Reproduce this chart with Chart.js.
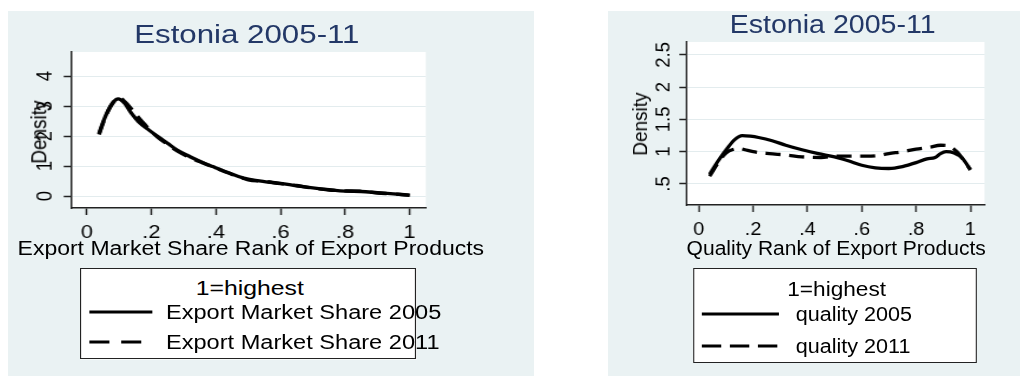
<!DOCTYPE html>
<html>
<head>
<meta charset="utf-8">
<title>Estonia 2005-11</title>
<script src="https://cdn.jsdelivr.net/npm/chart.js@4.4.0/dist/chart.umd.min.js"></script>
<style>
  html, body { margin: 0; padding: 0; background: #fff; }
  body { width: 1020px; height: 376px; position: relative; overflow: hidden; font-family: "Liberation Sans", Arial, sans-serif; }
  .panel { position: absolute; top: 11px; height: 365px; background: #eaf2f3; transform-origin: 0 0; }
  .panel canvas { position: absolute; left: 0; top: 0; }
  .t { position: absolute; white-space: nowrap; line-height: 1; transform: translate(-50%, -50%); color: #000; }
  .title { font-size: 26.5px; color: #233867; }
  .axt { font-size: 19.5px; }
  .ytitle { font-size: 19px; transform: translate(-50%, -50%) rotate(-90deg); }
  .legend { position: absolute; background: #fff; border: 1.5px solid #222; box-sizing: border-box; }
  .lg { font-size: 20px; }
  .lgt { font-size: 21px; }
  .entry { transform: translate(0, -50%); }
  svg.sample { position: absolute; overflow: visible; }
</style>
</head>
<body>

<!-- left panel: export market share -->
<div class="panel" id="panelShare" style="left:8px; width:446px; transform:scaleX(1.1794);">
  <canvas id="shareChart" width="446" height="365"></canvas>
  <div class="t title" style="left:202.5px; top:23px;">Estonia 2005-11</div>
  <div class="t ytitle" style="left:25.7px; top:121px;">Density</div>
  <div class="t axt" style="left:205.9px; top:237.5px;">Export Market Share Rank of Export Products</div>
  <div class="legend" style="left:61px; top:257px; width:285px; height:91px;"></div>
  <div class="t lgt" style="left:205px; top:276px;">1=highest</div>
  <svg class="sample" style="left:68.6px; top:301px;" width="54" height="1"><line x1="0" y1="0" x2="53.4" y2="0" stroke="#000" stroke-width="3"/></svg>
  <svg class="sample" style="left:68.6px; top:331px;" width="54" height="1"><line x1="0" y1="0" x2="44" y2="0" stroke="#000" stroke-width="3" stroke-dasharray="17 10"/></svg>
  <div class="t lg entry" style="left:133.9px; top:301px;">Export Market Share 2005</div>
  <div class="t lg entry" style="left:133.9px; top:331px;">Export Market Share 2011</div>
</div>

<!-- right panel: quality -->
<div class="panel" id="panelQuality" style="left:608px; width:382px; transform:scaleX(1.0785);">
  <canvas id="qualityChart" width="382" height="365"></canvas>
  <div class="t title" style="left:208.3px; top:13px;">Estonia 2005-11</div>
  <div class="t ytitle" style="left:30.4px; top:113px;">Density</div>
  <div class="t axt" style="left:211.6px; top:237.5px;">Quality Rank of Export Products</div>
  <div class="legend" style="left:78.7px; top:257px; width:263px; height:95px;"></div>
  <div class="t lgt" style="left:212px; top:277px;">1=highest</div>
  <svg class="sample" style="left:87px; top:303px;" width="72" height="1"><line x1="0" y1="0" x2="71.5" y2="0" stroke="#000" stroke-width="3"/></svg>
  <svg class="sample" style="left:87px; top:335px;" width="72" height="1"><line x1="0" y1="0" x2="70" y2="0" stroke="#000" stroke-width="3" stroke-dasharray="18 8"/></svg>
  <div class="t lg entry" style="left:174px; top:303px;">quality 2005</div>
  <div class="t lg entry" style="left:174px; top:335px;">quality 2011</div>
</div>

<script>
// rank axis (shared by both panels)
const xTickValues = [0, 0.2, 0.4, 0.6, 0.8, 1];
const xTickLabels = ['0', '.2', '.4', '.6', '.8', '1'];

// density axis ticks
const shareYTicks = [0, 1, 2, 3, 4];
const shareYLabels = ['0', '1', '2', '3', '4'];
const qualityYTicks = [0.5, 1, 1.5, 2, 2.5];
const qualityYLabels = ['.5', '1', '1.5', '2', '2.5'];

// kernel densities of export market share rank
const share2005X = [0.038, 0.05, 0.066, 0.081, 0.097, 0.118, 0.138, 0.16, 0.195, 0.22, 0.25, 0.28, 0.32, 0.36, 0.39, 0.43, 0.47, 0.5, 0.55, 0.6, 0.65, 0.7, 0.75, 0.8, 0.85, 0.9, 0.95, 1];
const share2005Y = [2.08, 2.45, 2.85, 3.12, 3.24, 3.08, 2.76, 2.48, 2.18, 1.98, 1.76, 1.53, 1.31, 1.11, 0.98, 0.81, 0.65, 0.56, 0.48, 0.42, 0.34, 0.27, 0.21, 0.16, 0.15, 0.11, 0.07, 0.03];
const share2011X = [0.038, 0.05, 0.066, 0.081, 0.1, 0.12, 0.14, 0.16, 0.18, 0.2, 0.22, 0.25, 0.28, 0.32, 0.36, 0.4, 0.45, 0.5, 0.55, 0.6, 0.65, 0.7, 0.75, 0.8, 0.85, 0.9, 0.95, 1];
const share2011Y = [2.05, 2.42, 2.83, 3.1, 3.28, 3.12, 2.88, 2.62, 2.38, 2.15, 1.96, 1.72, 1.5, 1.28, 1.1, 0.93, 0.72, 0.54, 0.49, 0.41, 0.35, 0.26, 0.2, 0.17, 0.16, 0.1, 0.07, 0.02];

// kernel densities of quality rank
const quality2005X = [0.04, 0.07, 0.11, 0.13, 0.16, 0.19, 0.22, 0.27, 0.32, 0.38, 0.44, 0.5, 0.55, 0.6, 0.65, 0.7, 0.75, 0.8, 0.84, 0.87, 0.89, 0.91, 0.94, 0.97, 1];
const quality2005Y = [0.65, 0.85, 1.08, 1.18, 1.25, 1.24, 1.22, 1.17, 1.1, 1.03, 0.97, 0.92, 0.86, 0.79, 0.75, 0.74, 0.77, 0.83, 0.89, 0.91, 0.97, 1.0, 0.98, 0.9, 0.72];
const quality2011X = [0.04, 0.07, 0.1, 0.13, 0.15, 0.17, 0.2, 0.26, 0.32, 0.38, 0.45, 0.5, 0.56, 0.62, 0.66, 0.7, 0.75, 0.8, 0.85, 0.89, 0.92, 0.95, 0.98, 1];
const quality2011Y = [0.62, 0.82, 0.98, 1.04, 1.05, 1.03, 1.0, 0.97, 0.95, 0.92, 0.91, 0.93, 0.93, 0.93, 0.94, 0.97, 1.0, 1.04, 1.07, 1.1, 1.09, 1.0, 0.84, 0.72];

Chart.defaults.font.family = '"Liberation Sans", Arial, sans-serif';
Chart.defaults.color = '#000';

// white plot region on top of the grey graph region
const plotBg = {
    id: 'plotBg',
    beforeDraw(chart) {
        const { ctx, chartArea: a } = chart;
        ctx.save();
        ctx.fillStyle = '#fff';
        ctx.fillRect(a.left, a.top, a.right - a.left, a.bottom - a.top);
        ctx.restore();
    }
};

function lineSet(label, xs, ys, dashed) {
    return {
        label: label,
        data: xs.map((x, i) => ({ x: x, y: ys[i] })),
        borderColor: '#000',
        borderWidth: 3.3,
        borderDash: dashed ? [14, 8] : [],
        borderJoinStyle: 'round',
        pointRadius: 0,
        cubicInterpolationMode: 'monotone',
        fill: false
    };
}

function buildChart(canvasId, cfg) {
    const canvas = document.getElementById(canvasId);
    const W = canvas.width, H = canvas.height;
    return new Chart(canvas, {
        type: 'line',
        data: { datasets: cfg.datasets },
        options: {
            responsive: false,
            animation: false,
            devicePixelRatio: 1,
            layout: { padding: { left: 0, top: cfg.area.top, right: W - cfg.area.right, bottom: 0 } },
            plugins: { legend: { display: false }, tooltip: { enabled: false } },
            scales: {
                x: {
                    type: 'linear',
                    min: cfg.xMin,
                    max: cfg.xMax,
                    afterFit: s => { s.height = H - cfg.area.bottom; },
                    afterBuildTicks: s => { s.ticks = xTickValues.map(v => ({ value: v })); },
                    grid: { drawOnChartArea: false, tickLength: 7, tickColor: '#222', tickWidth: 1.5 },
                    border: { display: true, color: '#222', width: 1.5 },
                    ticks: {
                        autoSkip: false, maxRotation: 0, padding: 7,
                        font: { size: 18.5 },
                        callback: v => xTickLabels[xTickValues.indexOf(v)]
                    }
                },
                y: {
                    type: 'linear',
                    min: cfg.yMin,
                    max: cfg.yMax,
                    afterFit: s => { s.width = cfg.area.left; },
                    afterBuildTicks: s => { s.ticks = cfg.yTicks.map(v => ({ value: v })); },
                    grid: { color: '#e3ecee', lineWidth: 1, tickLength: 7, tickColor: '#222', tickWidth: 1.5 },
                    border: { display: true, color: '#222', width: 1.5 },
                    ticks: {
                        minRotation: 90, maxRotation: 90, crossAlign: 'center',
                        padding: cfg.yPad,
                        font: { size: 18.5 },
                        callback: v => cfg.yLabels[cfg.yTicks.indexOf(v)]
                    }
                }
            }
        },
        plugins: [plotBg]
    });
}

buildChart('shareChart', {
    datasets: [
        lineSet('Export Market Share 2005', share2005X, share2005Y, false),
        lineSet('Export Market Share 2011', share2011X, share2011Y, true)
    ],
    area: { left: 54.2, top: 41, right: 354.2, bottom: 197 },
    xMin: -0.046, xMax: 1.05,
    yMin: -0.4, yMax: 4.8,
    yTicks: shareYTicks, yLabels: shareYLabels,
    yPad: 10.4
});

buildChart('qualityChart', {
    datasets: [
        lineSet('quality 2005', quality2005X, quality2005Y, false),
        lineSet('quality 2011', quality2011X, quality2011Y, true)
    ],
    area: { left: 73.1, top: 31, right: 349.1, bottom: 194 },
    xMin: -0.044, xMax: 1.052,
    yMin: 0.174, yMax: 2.7,
    yTicks: qualityYTicks, yLabels: qualityYLabels,
    yPad: 1.6
});
</script>
</body>
</html>
